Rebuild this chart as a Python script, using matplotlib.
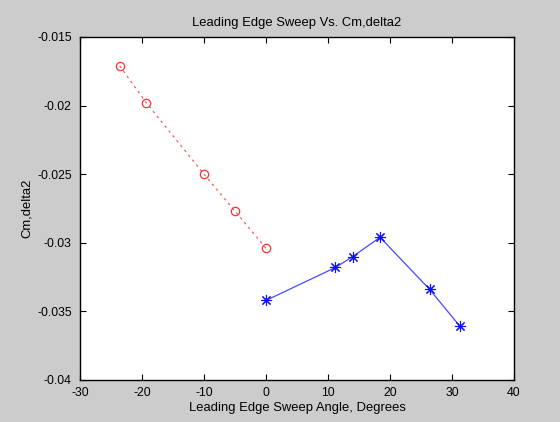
import matplotlib
matplotlib.use("Agg")
import matplotlib.pyplot as plt
from matplotlib.ticker import FuncFormatter

plt.rcParams['font.family'] = ['Liberation Sans', 'DejaVu Sans']

red_x = [-23.6, -19.3, -10.0, -5.0, 0.0]
red_y = [-0.0171, -0.0198, -0.0250, -0.0277, -0.0304]
blue_x = [0.0, 11.2, 14.0, 18.4, 26.4, 31.3]
blue_y = [-0.0342, -0.0318, -0.0310, -0.0296, -0.0334, -0.0361]

x_ticks = [-30, -20, -10, 0, 10, 20, 30, 40]
y_ticks = [-0.04, -0.035, -0.03, -0.025, -0.02, -0.015]

title = "Leading Edge Sweep Vs. Cm,delta2"
xlabel = "Leading Edge Sweep Angle, Degrees"
ylabel = "Cm,delta2"

fig = plt.figure(figsize=(5.6, 4.22), dpi=100, facecolor='#cccccc')
ax = fig.add_axes([80/560, 1-380/422, (514-80)/560, (380-37)/422])
ax.set_facecolor('white')

ax.plot(red_x, red_y, linestyle=(0, (2, 3)), color='#ff5a5a', linewidth=0.9,
        marker='o', markersize=6, markerfacecolor='none', markeredgecolor='#ff3030',
        markeredgewidth=0.9)
ax.plot(blue_x, blue_y, linestyle='-', color='#4848ff', linewidth=0.9,
        marker=(8, 2, 0), markersize=8, markerfacecolor='#0000ff', markeredgecolor='#1010ff',
        markeredgewidth=0.8)

ax.set_xlim(-30, 40)
ax.set_ylim(-0.04, -0.015)
ax.set_xticks(x_ticks)
ax.set_yticks(y_ticks)
ax.yaxis.set_major_formatter(FuncFormatter(lambda v, p: '%g' % v))
ax.xaxis.set_major_formatter(FuncFormatter(lambda v, p: '%g' % v))
ax.tick_params(direction='in', length=4, width=0.8, top=True, right=True,
               labelsize=8.8, colors='black')
ax.tick_params(axis='x', pad=5)
ax.tick_params(axis='y', pad=6)
for s in ax.spines.values():
    s.set_linewidth(1.0)

ax.set_title(title, fontsize=9.4, pad=8)
ax.set_xlabel(xlabel, fontsize=9.4, labelpad=2)
ax.set_ylabel(ylabel, fontsize=9.4, labelpad=3)

fig.savefig('out.png', dpi=100, facecolor=fig.get_facecolor())
